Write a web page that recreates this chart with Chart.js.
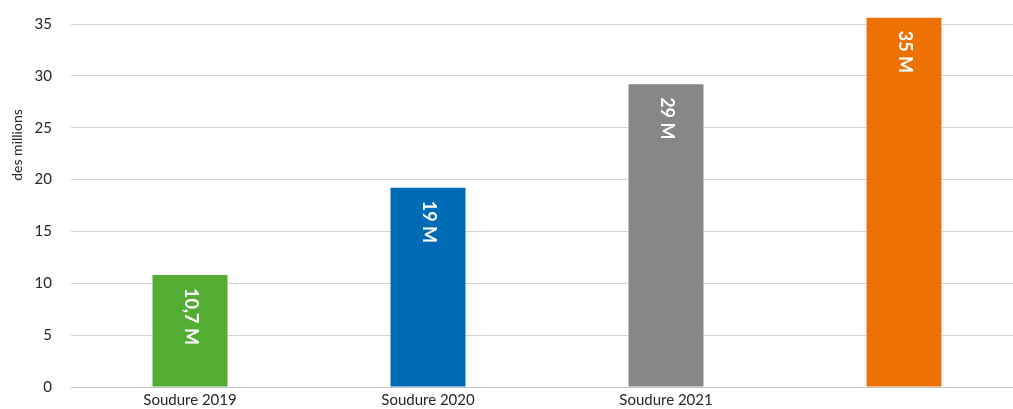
<!DOCTYPE html>
<html>
<head>
<meta charset="utf-8">
<script src="https://cdn.jsdelivr.net/npm/chart.js@4/dist/chart.umd.min.js"></script>
<style>
  html, body { margin: 0; padding: 0; background: #fff; overflow: hidden; }
  #wrap { width: 1023px; height: 409px; }
</style>
</head>
<body>
<div id="wrap"><canvas id="bar-chart"></canvas></div>
<script>
// Data
const categories = ["Soudure 2019", "Soudure 2020", "Soudure 2021", ""];
const values = [10.8, 19.2, 29.2, 35.6];
const valueLabels = ["10,7 M", "19 M", "29 M", "35 M"];
const barColors = ["#53ad33", "#006bb5", "#878787", "#ee7203"];
const yTicks = [0, 5, 10, 15, 20, 25, 30, 35];
const yTitle = "des millions";

// Draw the rotated value labels inside the bars, plus the y title
const barLabels = {
  id: "barLabels",
  afterDatasetsDraw(chart) {
    const ctx = chart.ctx;
    const meta = chart.getDatasetMeta(0);
    ctx.save();
    ctx.fillStyle = "#ffffff";
    ctx.font = "bold 18px Lato";
    ctx.textAlign = "left";
    ctx.textBaseline = "middle";
    meta.data.forEach((bar, i) => {
      ctx.save();
      ctx.translate(bar.x + 1, bar.y + 13);
      ctx.rotate(Math.PI / 2);
      ctx.fillText(valueLabels[i], 0, 0);
      ctx.restore();
    });
    ctx.restore();

    // y axis title
    ctx.save();
    ctx.fillStyle = "#262626";
    ctx.font = "14px Lato";
    ctx.textAlign = "center";
    ctx.textBaseline = "middle";
    ctx.translate(17, 145);
    ctx.rotate(-Math.PI / 2);
    ctx.fillText(yTitle, 0, 0);
    ctx.restore();
  }
};

new Chart(document.getElementById("bar-chart"), {
  type: "bar",
  data: {
    labels: categories,
    datasets: [
      {
        data: values,
        backgroundColor: barColors,
        barPercentage: 0.315,
        categoryPercentage: 1
      }
    ]
  },
  options: {
    responsive: true,
    maintainAspectRatio: false,
    animation: false,
    layout: { padding: { top: 10, right: 0, bottom: 0, left: 0 } },
    plugins: {
      legend: { display: false },
      tooltip: { enabled: false }
    },
    scales: {
      x: {
        afterFit(scale) {
          scale.height = 22;
          scale.paddingLeft = 0;
          scale.paddingRight = 0;
        },
        grid: { display: false, drawTicks: false },
        border: { color: "#c4c4c4", width: 1 },
        ticks: {
          color: "#262626",
          font: { family: "Lato", size: 15 },
          padding: 4,
          maxRotation: 0
        }
      },
      y: {
        min: 0,
        max: 36.35,
        afterFit(scale) {
          scale.width = 71;
          scale.paddingTop = 0;
          scale.paddingBottom = 0;
        },
        afterBuildTicks(scale) {
          scale.ticks = yTicks.map(v => ({ value: v }));
        },
        grid: { color: "#d4d4d4", drawTicks: false },
        border: { display: false },
        ticks: {
          color: "#262626",
          font: { family: "Lato", size: 15 },
          padding: 19
        }
      }
    }
  },
  plugins: [barLabels]
});
</script>
</body>
</html>
